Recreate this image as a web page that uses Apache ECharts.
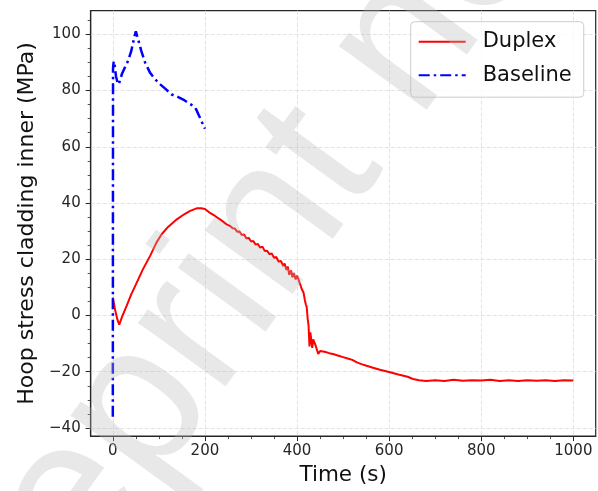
<!DOCTYPE html>
<html>
<head>
<meta charset="utf-8">
<script src="https://cdn.jsdelivr.net/npm/echarts@6/dist/echarts.min.js"></script>
<style>
  html, body { margin: 0; padding: 0; background: #fff; }
  #chart { width: 598px; height: 491px; }
</style>
</head>
<body>
<div id="chart"></div>
<script>
// ---- data ----
const duplexTime = [0, 5, 10, 14, 20, 30, 40, 52, 65, 81, 95, 106, 120, 139, 155, 168, 182, 192, 200, 210, 222, 235, 247, 255, 260, 265, 270, 275, 280, 285, 290, 295, 300, 305, 310, 315, 320, 325, 330, 335, 340, 345, 350, 355, 360, 365, 370, 373, 377, 380, 383, 387, 390, 393, 397, 400, 403, 407, 410, 414, 417, 419, 421, 423, 425, 427, 429, 431, 433, 435, 437, 440, 443, 446, 450, 460, 470, 480, 490, 500, 510, 520, 530, 540, 551, 565, 580, 602, 620, 640, 652, 665, 680, 700, 720, 740, 760, 780, 800, 820, 840, 860, 880, 900, 920, 940, 960, 980, 1000];
const duplexStress = [6.4, 2, -1.5, -3.3, -0.5, 3.4, 7.5, 11.7, 16.3, 21.2, 26, 28.9, 31.5, 34.2, 36, 37.2, 38.1, 38.1, 37.9, 36.6, 35.4, 33.9, 32.4, 31.8, 31.0, 30.9, 29.8, 29.9, 28.6, 28.8, 27.4, 27.6, 26.3, 26.5, 25.2, 25.4, 24.1, 24.5, 22.9, 23.0, 21.8, 22.1, 20.5, 20.8, 19.1, 19.4, 17.6, 18.5, 16.2, 17.4, 14.5, 16.0, 13.6, 15.1, 12.8, 14.2, 12.9, 11.0, 9.5, 8.2, 5.5, 4.0, 3.0, -1, -3.5, -11, -6, -5.8, -11.5, -8.5, -8.8, -10.5, -9.8, -13.7, -12.6, -12.9, -13.4, -13.8, -14.3, -14.8, -15.3, -15.8, -16.7, -17.3, -17.9, -18.6, -19.3, -20.2, -21.0, -21.8, -22.6, -23.0, -23.3, -23.0, -23.3, -22.9, -23.2, -23.0, -23.1, -22.9, -23.3, -23.0, -23.3, -23.0, -23.2, -23.0, -23.3, -23.0, -23.1];
const baselineTime = [0, 0.5, 2, 4, 7, 10, 13, 20, 27, 33, 40, 46, 50, 53, 57, 62, 70, 81, 92, 103, 115, 128, 140, 153, 165, 175, 181, 186, 193, 200];
const baselineStress = [-36, 88, 90.4, 89, 85, 83, 82.2, 86, 88.5, 90.5, 94, 98.5, 101.1, 100.5, 97, 94, 90, 86.3, 84, 82.2, 80.5, 78.6, 77.8, 76.8, 75.5, 74.5, 73.3, 71.5, 69, 66.4];
const seriesNames = ['Duplex', 'Baseline'];
const xTicks = [0, 200, 400, 600, 800, 1000];
const xMinorTicks = [50, 100, 150, 250, 300, 350, 450, 500, 550, 650, 700, 750, 850, 900, 950];
const yTicks = [-40, -20, 0, 20, 40, 60, 80, 100];
const yMinorTicks = [-35, -30, -25, -15, -10, -5, 5, 10, 15, 25, 30, 35, 45, 50, 55, 65, 70, 75, 85, 90, 95, 105];
const xTitle = 'Time (s)';
const yTitle = 'Hoop stress cladding inner (MPa)';
const watermark = 'Preprint not peer reviewed';

const pairs = (xs, ys) => xs.map((x, i) => [x, ys[i]]);

const X_MIN = -48, X_MAX = 1048.5, Y_MIN = -42.9, Y_MAX = 108.4;
const FONT = 'DejaVu Sans';
const INK = '#262626';

const chart = echarts.init(document.getElementById('chart'), null, { renderer: 'canvas' });

const option = {
  animation: false,
  backgroundColor: '#ffffff',
  grid: {
    left: 90.7, right: 2.3, top: 10.7, bottom: 53.7,
    show: true, borderColor: INK, borderWidth: 1.2, backgroundColor: 'transparent'
  },
  legend: {
    orient: 'vertical',
    left: 410.7, top: 21.7,
    data: seriesNames,
    itemWidth: 47, itemHeight: 14, itemGap: 9.5,
    padding: [8, 12, 10, 7],
    backgroundColor: 'rgba(255,255,255,0.8)',
    borderColor: '#cccccc', borderWidth: 1, borderRadius: 4,
    itemStyle: { opacity: 0 },
    textStyle: { fontFamily: FONT, fontSize: 21, color: '#111', lineHeight: 24, padding: [0, 0, 0, 12] }
  },
  xAxis: [{
    type: 'value', min: X_MIN, max: X_MAX,
    name: xTitle, nameLocation: 'middle', nameGap: 27,
    nameTextStyle: { fontFamily: FONT, fontSize: 21.5, color: '#111' },
    axisLine: { show: true, onZero: false, lineStyle: { color: INK, width: 1.2 } },
    axisTick: { show: true, length: 5, customValues: xTicks, lineStyle: { color: INK, width: 1 } },
    axisLabel: { customValues: xTicks, fontFamily: FONT, fontSize: 15, color: INK, margin: 8,
      formatter: v => String(v) },
    splitLine: { show: true, lineStyle: { color: '#dcdcdc', width: 0.8, type: [4, 2] } },
    minorTick: { show: false }
  }, {
    type: 'value', min: X_MIN, max: X_MAX, position: 'bottom',
    axisLine: { show: false, onZero: false },
    axisTick: { show: true, length: 3, customValues: xMinorTicks, lineStyle: { color: INK, width: 0.8 } },
    axisLabel: { show: false },
    splitLine: { show: false }
  }],
  yAxis: [{
    type: 'value', min: Y_MIN, max: Y_MAX,
    name: yTitle, nameLocation: 'middle', nameGap: 52,
    nameTextStyle: { fontFamily: FONT, fontSize: 22, color: '#111' },
    axisLine: { show: true, onZero: false, lineStyle: { color: INK, width: 1.2 } },
    axisTick: { show: true, length: 5, customValues: yTicks, lineStyle: { color: INK, width: 1 } },
    axisLabel: { customValues: yTicks, fontFamily: FONT, fontSize: 15, color: INK, margin: 10,
      formatter: v => (v < 0 ? '\u2212' + Math.abs(v) : String(v)) },
    splitLine: { show: true, lineStyle: { color: '#dcdcdc', width: 0.8, type: [4, 2] } }
  }, {
    type: 'value', min: Y_MIN, max: Y_MAX, position: 'left',
    axisLine: { show: false, onZero: false },
    axisTick: { show: true, length: 3, customValues: yMinorTicks, lineStyle: { color: INK, width: 0.8 } },
    axisLabel: { show: false },
    splitLine: { show: false }
  }],
  series: [{
    name: seriesNames[0], type: 'line', xAxisIndex: 0, yAxisIndex: 0,
    data: pairs(duplexTime, duplexStress),
    symbol: 'none', color: '#ff0000',
    lineStyle: { color: '#ff0000', width: 2 },
    z: 3
  }, {
    name: seriesNames[1], type: 'line', xAxisIndex: 0, yAxisIndex: 0,
    data: pairs(baselineTime, baselineStress),
    symbol: 'none', color: '#0000ff',
    lineStyle: { color: '#0000ff', width: 2.5, type: [11, 4, 2.5, 4] },
    z: 4
  }],
  graphic: [{
    type: 'text',
    x: 0, y: 775,
    rotation: 54 * Math.PI / 180,
    z: 100, silent: true,
    style: {
      text: watermark,
      font: '205px "Liberation Sans"',
      fill: 'rgba(185,185,185,0.33)',
      align: 'left', verticalAlign: 'bottom'
    }
  }]
};
chart.setOption(option);
</script>
</body>
</html>
